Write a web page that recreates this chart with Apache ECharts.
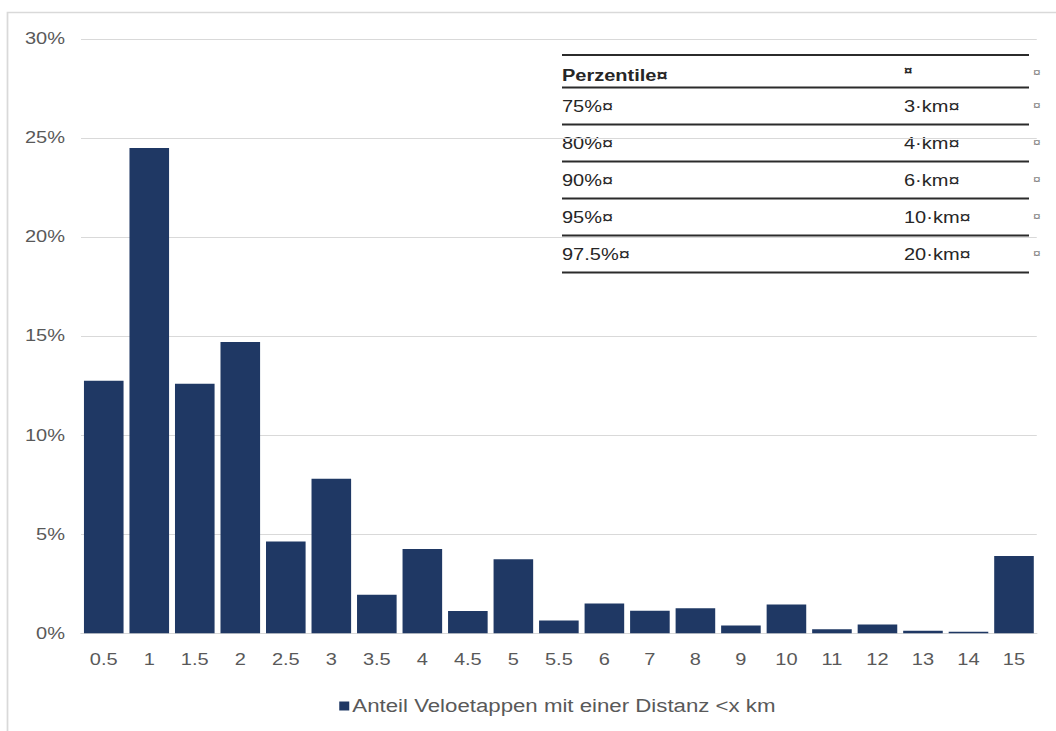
<!DOCTYPE html>
<html>
<head>
<meta charset="utf-8">
<style>
  html, body { margin: 0; padding: 0; background: #ffffff; overflow: hidden; }
  /* the figure is laid out on a narrower canvas and widened to the page */
  #chart { width: 844.8px; height: 731px; transform: scaleX(1.25); transform-origin: 0 0; }
</style>
<script src="https://cdn.jsdelivr.net/npm/echarts@6/dist/echarts.min.js"></script>
</head>
<body>
<div id="chart"></div>
<script>
// Distance classes (km) and the share of bike stages per class (%)
const categories = ['0.5', '1', '1.5', '2', '2.5', '3', '3.5', '4', '4.5', '5', '5.5',
                    '6', '7', '8', '9', '10', '11', '12', '13', '14', '15'];
const shares = [12.75, 24.5, 12.6, 14.7, 4.63, 7.8, 1.94, 4.26, 1.12, 3.74, 0.64,
                1.51, 1.14, 1.26, 0.4, 1.46, 0.2, 0.45, 0.13, 0.08, 3.9];
const seriesName = 'Anteil Veloetappen mit einer Distanz <x km';

// Percentile table
const tableHeader = ['Perzentile¤', '¤', '¤'];
const percentiles = ['75%¤', '80%¤', '90%¤', '95%¤', '97.5%¤'];
const distances = ['3·km¤', '4·km¤', '6·km¤', '10·km¤', '20·km¤'];

const FONT = '"Liberation Sans", Arial, sans-serif';
const TEXT_GRAY = '#595959';
const SX = 1.25;              // horizontal widening applied to the chart box
const px = function (x) { return x / SX; };

// Table geometry
const tLeft = px(562), tRight = px(1029), tCol2 = px(904), tCol3 = px(1033);
const tLines = [55, 87.5, 124.5, 161.5, 198.5, 235.5, 272.5];

const graphics = [];
// outer frame (only the left and top edges fall inside the page)
graphics.push({
  type: 'rect', silent: true, z: -10,
  shape: { x: px(7.5), y: 12.5, width: 1000, height: 900 },
  style: { fill: 'none', stroke: '#d9d9d9', lineWidth: 1.4 }
});
tLines.forEach(function (y) {
  graphics.push({
    type: 'line', silent: true,
    shape: { x1: tLeft, y1: y, x2: tRight, y2: y },
    style: { stroke: '#2b2b2b', lineWidth: 2 }
  });
});
function cellText(x, y, text, bold, size, color) {
  graphics.push({
    type: 'text', silent: true, x: x, y: y,
    style: {
      text: text, fill: color || '#262626',
      font: (bold ? 'bold ' : '') + size + 'px ' + FONT,
      verticalAlign: 'middle'
    }
  });
}
cellText(tLeft, 76, tableHeader[0], true, 16);
cellText(tCol2, 71, tableHeader[1], true, 12);
cellText(tCol3, 72, tableHeader[2], false, 11, '#808080');
percentiles.forEach(function (p, i) {
  const yMid = (tLines[i + 1] + tLines[i + 2]) / 2 + 0.5;
  cellText(tLeft, yMid, p, false, 16);
  cellText(tCol2, yMid, distances[i], false, 16);
  cellText(tCol3, yMid - 1, tableHeader[2], false, 11, '#808080');
});

const chart = echarts.init(document.getElementById('chart'), null, { renderer: 'svg' });
chart.setOption({
  backgroundColor: '#ffffff',
  animation: false,
  textStyle: { fontFamily: FONT },
  grid: { left: px(81), right: px(19.5), top: 39, bottom: 97.7, containLabel: false },
  xAxis: {
    type: 'category',
    data: categories,
    axisLine: { show: true, lineStyle: { color: '#d9d9d9', width: 1.2 } },
    axisTick: { show: false },
    axisLabel: { color: TEXT_GRAY, fontSize: 16, margin: 18, fontFamily: FONT }
  },
  yAxis: {
    type: 'value',
    min: 0, max: 30, interval: 5,
    axisLine: { show: false },
    axisTick: { show: false },
    axisLabel: { formatter: '{value}%', color: TEXT_GRAY, fontSize: 16, margin: px(16), fontFamily: FONT },
    splitLine: { lineStyle: { color: '#d9d9d9', width: 1 } }
  },
  legend: {
    data: [seriesName],
    left: px(333), top: 692,
    icon: 'rect', itemWidth: 8, itemHeight: 9,
    textStyle: { color: TEXT_GRAY, fontSize: 17.8, fontFamily: FONT, padding: [0, 0, 0, -2.5] }
  },
  series: [{
    name: seriesName,
    type: 'bar',
    data: shares,
    barCategoryGap: '13%',
    itemStyle: { color: '#1f3864' }
  }],
  graphic: graphics
});
</script>
</body>
</html>
